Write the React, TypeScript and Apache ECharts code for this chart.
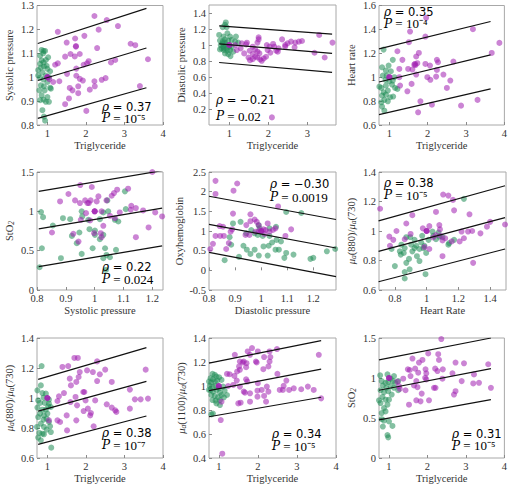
import { useEffect, useRef } from 'react';
import * as echarts from 'echarts';

// ---------- data ----------
const green1 = [[0.85,1.114],[0.90,1.11],[0.94,1.11],[0.81,1.09],[0.89,1.10],[0.85,1.07],[0.81,1.056],[0.90,1.062],[0.96,1.072],[1.02,1.083],[0.91,1.045],[0.83,1.04],[0.76,1.03],[0.87,1.02],[1.0,1.035],[1.07,1.025],[0.96,1.007],[0.81,0.998],[0.90,0.99],[1.04,1.0],[1.0,0.98],[0.83,0.966],[0.91,0.962],[1.07,0.956],[0.79,0.945],[0.93,0.945],[0.85,0.924],[0.90,0.906],[1.0,0.917],[0.81,0.904],[0.96,0.897],[1.04,0.897],[0.87,0.862],[0.91,0.835],[0.94,0.818],[1.09,0.952],[0.76,1.007],[0.98,1.048]];
const purple1 = [[2.22,1.256],[2.54,1.239],[2.83,1.214],[2.33,1.199],[1.27,1.19],[1.96,1.173],[1.72,1.162],[1.50,1.145],[1.74,1.13],[1.74,1.128],[3.16,1.14],[3.28,1.134],[2.29,1.122],[1.60,1.097],[1.84,1.097],[1.71,1.087],[1.46,1.086],[2.07,1.067],[2.03,1.058],[2.65,1.062],[2.76,1.072],[3.61,1.075],[1.27,1.058],[1.20,1.052],[1.94,1.052],[1.75,1.036],[1.51,1.014],[1.05,0.992],[1.15,0.98],[1.31,0.983],[1.75,1.006],[1.84,0.993],[1.92,0.986],[2.22,0.983],[2.41,0.989],[2.51,0.996],[1.80,0.962],[1.58,0.955],[1.65,0.945],[2.23,0.962],[2.10,0.948],[1.80,0.933],[1.56,0.911],[1.46,0.887],[2.01,0.859],[3.40,0.963],[1,1],[1,1],[1,1]];

const green2 = [[0.91,1.282],[0.89,1.253],[0.83,1.223],[0.93,1.223],[0.74,1.126],[0.85,1.105],[0.95,1.147],[1.02,1.105],[0.76,1.055],[0.83,1.042],[0.89,1.072],[0.97,1.055],[1.06,1.063],[1.15,1.042],[1.23,1.03],[0.78,1.0],[0.85,0.979],[0.91,1.0],[0.93,0.958],[1.0,0.979],[0.86,0.937],[0.95,0.928],[1.02,0.937],[0.80,0.958],[1.06,0.979],[0.97,0.886],[0.89,0.895],[1.03,0.861],[1.10,0.916],[0.83,1.021],[0.89,1.03],[1.17,1.105],[0.76,0.945],[0.86,0.958]];
const purple2 = [[1.15,1.0],[1.29,0.958],[1.45,1.029],[1.60,0.979],[1.52,0.928],[1.75,1.097],[1.75,1.07],[1.72,1.03],[1.66,0.945],[1.72,0.916],[1.77,0.895],[1.60,0.886],[1.49,0.844],[1.53,0.81],[1.60,0.823],[1.66,0.853],[1.79,0.819],[1.72,0.844],[1.96,1.0],[2.03,0.979],[1.98,0.937],[1.83,0.802],[2.12,1.013],[2.15,0.979],[2.20,0.928],[2.24,0.916],[2.26,0.958],[2.35,1.07],[2.43,0.979],[2.49,1.021],[2.58,1.042],[2.69,1.03],[2.78,1.042],[2.86,1.05],[2.67,0.971],[2.43,1.0],[3.18,0.903],[3.30,1.126],[3.44,0.844],[3.64,1.03],[2.09,0.095],[1.88,0.832],[1.32,1.021],[1.43,1.008],[1.19,0.937],[1.38,0.895],[1.94,0.853],[2.05,0.903],[1,1],[1,1],[1,1]];

const green3 = [[0.85,1.231],[0.81,1.083],[0.91,1.055],[1.09,1.145],[0.98,1.097],[1.04,1.05],[0.83,1.013],[0.93,1.013],[0.90,0.977],[1.0,0.966],[0.79,0.91],[0.91,0.93],[1.07,0.938],[1.15,0.91],[1.21,0.902],[0.85,0.874],[0.96,0.888],[0.81,0.846],[0.91,0.854],[1.02,0.832],[1.10,0.838],[0.87,0.81],[0.96,0.798],[0.79,0.79],[0.81,0.754],[0.87,0.72],[0.74,0.921],[1.09,0.972],[1.13,1.0]];
const purple3 = [[1.96,1.497],[1.54,1.382],[3.18,1.402],[1.94,1.34],[1.51,1.293],[3.87,1.287],[1.21,1.217],[1.77,1.203],[3.67,1.203],[1.70,1.173],[1.67,1.111],[1.73,1.117],[2.24,1.145],[2.27,1.125],[2.67,1.131],[1.94,1.111],[1.34,1.145],[2.06,1.097],[1.49,1.069],[1.60,1.064],[1.26,1.069],[1.70,1.022],[1.99,1.0],[2.22,1.005],[2.41,1.022],[2.59,0.972],[2.24,1.061],[2.07,0.978],[1.28,0.93],[1.58,0.944],[2.50,0.91],[1.26,1.0],[1.47,0.882],[1.81,0.798],[2.11,0.77],[1.75,0.706],[2.87,0.762],[3.30,0.81],[1.68,1.1],[1.65,1.105],[1,1],[1,1],[1,1]];

const green4 = [[0.814,0.99],[0.821,0.926],[0.89,0.913],[0.915,0.90],[0.855,0.82],[0.921,0.688],[0.938,0.595],[0.955,1.0],[0.957,0.935],[0.982,0.773],[1.001,0.756],[0.978,0.892],[1.018,0.90],[1.03,0.986],[1.047,1.0],[1.044,1.139],[1.07,0.892],[1.082,0.871],[1.105,1.254],[1.108,1.028],[1.03,0.701],[1.018,0.646],[1.036,0.531],[1.041,0.446],[1.03,0.404],[0.993,0.531],[0.955,0.459],[0.883,0.404],[0.817,0.531],[0.809,0.289],[1.039,0.255],[1.053,0.416],[1.074,0.51],[0.947,0.731],[1.001,0.701]];
const purple4 = [[1.2,1.5],[0.95,1.334],[0.99,1.309],[1.116,1.288],[1.078,1.275],[1.067,1.232],[1.059,1.198],[0.909,1.22],[0.88,1.126],[0.932,1.139],[0.967,1.139],[0.986,1.139],[1.007,1.126],[0.949,1.105],[0.975,1.105],[0.98,1.105],[1.041,1.139],[1.127,1.071],[1.143,1.041],[0.97,0.977],[1.024,1.0],[1.087,0.986],[1.125,1.02],[1.168,1.011],[1.21,0.986],[1.234,0.935],[0.952,0.892],[0.984,0.884],[1.053,0.943],[1.07,0.913],[1.03,0.816],[0.998,0.722],[1.021,0.722],[0.926,0.714],[0.852,0.731],[0.944,0.616],[1.024,0.671],[1.187,0.795],[1.143,0.671],[1.013,1.19],[1,1],[1,1],[1,1]];

const green5 = [[1.096,1.483],[1.154,1.458],[0.921,1.233],[0.892,1.192],[0.99,1.15],[0.994,1.067],[1.032,1.067],[0.962,1.025],[0.975,0.942],[0.987,0.9],[1.006,0.875],[1.032,0.875],[1.057,1.108],[1.059,0.775],[1.076,0.733],[1.042,0.708],[1.029,0.625],[1.055,0.525],[1.068,0.525],[0.945,0.525],[0.959,0.417],[0.932,0.625],[0.975,0.525],[1.009,0.608],[0.991,0.375],[1.025,0.375],[1.089,0.317],[1.096,0.442],[1.124,0.4],[1.189,0.292],[1.2,0.317],[1.252,0.483],[1.284,0.542],[0.915,0.342],[0.86,0.258],[0.879,0.842],[0.885,0.65],[0.943,0.942]];
const purple5 = [[0.825,2.275],[0.908,2.208],[0.825,1.942],[0.894,2.025],[1.065,1.625],[0.892,1.442],[0.959,1.425],[0.975,1.292],[0.959,1.25],[0.983,1.233],[1.025,1.192],[1.017,1.025],[1.045,1.025],[0.841,1.125],[0.854,1.108],[0.889,1.042],[0.883,0.983],[0.825,0.875],[0.843,0.875],[0.857,0.875],[0.805,0.542],[0.815,0.675],[0.866,0.542],[0.876,0.692],[0.955,0.9],[0.978,0.983],[0.991,1.0],[1.009,1.042],[1.013,0.925],[1.032,0.983],[1.055,1.067],[1.093,0.875],[1.115,1.042],[0.94,0.9],[0.991,1.142],[0.943,1.15],[1,1],[1,1],[1,1]];

const green6 = [[1.235,1.218],[0.779,0.878],[0.8,0.762],[0.831,0.862],[0.837,0.84],[0.856,0.851],[0.841,0.907],[0.862,0.884],[0.872,0.958],[0.897,0.958],[0.903,0.907],[0.91,0.862],[0.924,0.884],[0.889,0.811],[0.872,0.784],[0.893,0.74],[0.862,0.722],[0.862,0.678],[0.939,0.829],[0.955,0.878],[0.966,0.922],[0.972,0.967],[0.98,0.884],[0.986,0.9],[0.997,0.851],[0.993,0.707],[1.012,0.94],[1.037,0.996],[1.042,0.967],[1.059,0.944],[1.075,0.989],[1.1,0.958],[1.142,0.918],[1.137,0.907],[1.173,0.94],[1.08,0.962],[0.924,0.94],[0.955,0.796],[0.935,0.9]];
const purple6 = [[0.707,1.151],[1.104,1.247],[1.137,1.24],[1.166,1.211],[1.059,1.129],[1.173,1.14],[1.27,1.113],[0.91,1.107],[1.017,1.033],[1.08,1.04],[0.976,1.018],[1.084,1.011],[1.059,0.973],[1.088,0.967],[1.117,0.951],[1.1,0.936],[1.158,0.929],[1.22,0.996],[1.208,0.929],[1.235,0.951],[1.261,0.996],[1.287,1.0],[1.339,0.984],[1.38,1.029],[1.4,1.062],[1.494,1.044],[0.81,1.0],[0.765,0.962],[0.79,0.94],[0.769,0.9],[0.872,1.051],[0.899,0.98],[0.862,0.944],[1.017,0.878],[1.1,0.829],[1.293,0.784],[0.986,0.891],[1.041,0.956],[1,1],[1,1],[1,1]];

const green7 = [[0.85,1.213],[0.83,1.084],[0.74,1.051],[0.87,1.033],[0.96,1.029],[0.90,1.002],[1.04,0.989],[0.76,0.984],[0.81,0.967],[0.93,0.967],[1.02,0.944],[0.74,0.936],[0.87,0.922],[0.96,0.922],[1.09,0.94],[0.81,0.896],[0.91,0.884],[1.0,0.896],[0.76,0.873],[0.90,0.856],[0.98,0.862],[1.04,0.84],[0.83,0.829],[0.91,0.807],[1.07,0.811],[0.98,0.789],[0.79,0.767],[0.87,0.762],[0.91,0.758],[0.76,0.736],[0.83,0.718],[1.10,0.669],[1.09,0.773],[0.73,0.807],[1.04,0.962]];
const purple7 = [[1.70,1.267],[1.79,1.267],[2.29,1.244],[1.54,1.213],[1.39,1.207],[2.03,1.184],[2.50,1.189],[2.18,1.173],[1.84,1.173],[2.36,1.158],[1.81,1.14],[1.58,1.129],[2.29,1.113],[1.75,1.107],[2.67,1.107],[1.61,1.084],[3.55,1.189],[1.93,1.04],[1.96,1.04],[3.14,1.056],[1.43,1.033],[1.30,1.011],[1.73,1.007],[3.27,0.991],[3.42,0.991],[3.61,0.996],[1.99,0.984],[2.24,0.984],[1.26,0.98],[1.60,0.973],[1.77,0.951],[2.54,0.958],[2.67,0.936],[2.76,0.918],[2.05,0.929],[2.79,0.907],[3.14,0.929],[1.94,0.913],[2.13,0.9],[2.11,0.884],[1.50,0.884],[1.26,0.851],[1.33,0.84],[1.75,0.851],[2.20,0.811],[1.51,0.784],[1.04,0.851],[1,1],[1,1],[1,1]];

const green8 = [[0.84,1.101],[0.90,1.093],[0.79,1.065],[0.85,1.056],[0.94,1.079],[1.01,1.073],[0.75,1.037],[0.81,1.029],[0.90,1.037],[0.96,1.045],[1.07,1.051],[0.77,1.001],[0.84,0.995],[0.92,1.001],[1.01,0.981],[1.11,0.995],[0.79,0.967],[0.85,0.953],[0.94,0.967],[1.03,0.945],[0.81,0.925],[0.90,0.917],[0.98,0.906],[1.07,0.925],[0.84,0.883],[0.92,0.878],[1.03,0.883],[0.94,0.855],[0.81,0.763],[0.85,0.771],[1.15,0.961],[1.21,0.925],[1.13,0.906],[1.03,0.841],[0.75,0.967]];
const purple8 = [[1.85,1.316],[1.74,1.288],[2.0,1.288],[1.8,1.26],[2.3,1.288],[2.49,1.308],[2.16,1.241],[2.32,1.241],[1.41,1.26],[1.54,1.204],[1.61,1.196],[1.64,1.204],[1.71,1.19],[1.95,1.204],[1.97,1.196],[2.3,1.204],[3.56,1.26],[1.52,1.163],[1.54,1.135],[1.7,1.157],[2.14,1.14],[2.27,1.163],[2.5,1.101],[1.21,1.101],[1.28,1.098],[1.4,1.084],[1.47,1.121],[1.7,1.056],[1.73,1.037],[2.0,1.023],[1.46,1.045],[1.37,1.009],[1.54,0.995],[1.64,0.953],[1.67,0.945],[1.99,0.961],[2.1,0.967],[2.23,0.995],[2.27,0.953],[2.16,0.917],[1.99,0.911],[1.8,0.939],[1.8,0.869],[1.56,0.861],[1.5,0.855],[2.21,0.869],[2.56,0.967],[2.66,1.001],[2.73,1.045],[2.8,0.967],[2.64,0.967],[2.92,0.981],[3.11,0.973],[3.28,0.995],[3.43,0.967],[3.62,0.897],[1.07,0.869],[1.05,0.716],[1.09,0.436],[1.24,1.0],[1,1],[1,1],[1,1]];

const green9 = [[0.77,1.033],[0.96,1.045],[0.81,0.961],[0.91,0.94],[0.98,0.949],[1.04,0.991],[1.1,0.961],[1.16,0.94],[1.24,0.961],[0.84,0.906],[0.93,0.877],[1.04,0.898],[1.13,0.877],[1.24,0.847],[0.78,0.847],[0.87,0.822],[0.98,0.835],[1.07,0.793],[0.83,0.763],[0.91,0.729],[1.0,0.729],[0.78,0.687],[0.96,0.666],[0.74,0.721],[0.87,0.624],[0.81,0.561],[0.91,0.582],[0.81,0.485],[0.87,0.468],[1.0,0.456],[1.09,0.401],[0.96,0.287],[0.98,0.258],[0.84,0.393],[1.13,1.024]];
const purple9 = [[2.36,1.487],[2.02,1.306],[2.28,1.298],[1.61,1.243],[1.87,1.226],[1.78,1.193],[2.3,1.226],[2.73,1.193],[2.95,1.184],[3.58,1.172],[1.49,1.108],[1.54,1.1],[1.68,1.117],[1.95,1.108],[2.2,1.117],[2.26,1.087],[2.4,1.108],[2.65,1.058],[1.76,1.066],[1.97,1.058],[1.56,1.024],[1.94,1.003],[1.97,0.982],[1.22,0.954],[1.37,0.991],[1.71,0.961],[2.39,0.991],[2.89,0.961],[3.21,1.045],[3.34,0.94],[3.19,0.932],[3.65,0.877],[1.65,0.906],[1.74,0.885],[2.21,0.877],[2.17,0.877],[1.85,0.805],[2.69,0.793],[2.73,0.835],[1.43,0.847],[1.28,0.864],[1.26,0.898],[1.71,0.721],[1.52,0.666],[1.82,0.708],[2.04,0.721],[1,1],[1,1],[1,1]];

// regression lines (x start/end, y at start/end)
const fitX = [[0.75,3.57],[0.74,3.63],[0.73,3.64],[0.806,1.234],[0.8,1.287],[0.697,1.494],[0.76,3.57],[0.75,3.62],[0.74,3.65]];
const fitUpper = [[1.141,1.288],[1.24,1.135],[1.237,1.466],[1.254,1.517],[1.883,1.292],[1.069,1.307],[1.124,1.336],[1.19,1.378],[1.226,1.5]];
const fitMid = [[0.986,1.122],[1.013,0.895],[0.96,1.187],[0.778,1.041],[1.167,0.567],[0.862,1.091],[0.913,1.111],[0.961,1.14],[0.847,1.117]];
const fitLower = [[0.828,0.956],[0.781,0.659],[0.687,0.902],[0.297,0.561],[0.458,-0.158],[0.656,0.878],[0.691,0.88],[0.744,0.906],[0.477,0.729]];

// axes
const xNames = ['Triglyceride','Triglyceride','Triglyceride','Systolic pressure','Diastolic pressure','Heart Rate','Triglyceride','Triglyceride','Triglyceride'];
const yNames = ['Systolic pressure','Diastolic pressure','Heart rate','StO{s|2}','Oxyhemoglobin','{m|μ}{s|a}(880)/{m|μ}{s|a}(730)','{m|μ}{s|a}(880)/{m|μ}{s|a}(730)','{m|μ}{s|a}(1100)/{m|μ}{s|a}(730)','StO{s|2}'];
const xRanges = [[0.73,4],[0.48,3.73],[0.73,4],[0.8,1.237],[0.8,1.287],[0.7,1.5],[0.73,4],[0.75,4],[0.74,4]];
const yRanges = [[0.8,1.3],[0,1.5],[0.6,1.6],[0,1.5],[-0.5,2.5],[0.6,1.4],[0.6,1.4],[0.4,1.4],[0,1.5]];
const xTicks = [[1,2,3,4],[1,2,3],[1,2,3,4],[0.8,0.9,1,1.1,1.2],[0.8,0.9,1,1.1,1.2],[0.8,1,1.2,1.4],[1,2,3,4],[1,2,3,4],[1,2,3,4]];
const yTicks = [[0.8,0.9,1,1.1,1.2,1.3],[0.2,0.4,0.6,0.8,1,1.2,1.4],[0.6,0.8,1,1.2,1.4,1.6],[0,0.5,1,1.5],[-0.5,0,0.5,1,1.5,2,2.5],[0.6,0.8,1,1.2,1.4],[0.6,0.8,1,1.2,1.4],[0.4,0.6,0.8,1,1.2,1.4],[0,0.5,1,1.5]];

// statistics
const rhoTexts = ['0.37','−0.21','0.35','0.22','−0.30','0.38','0.38','0.34','0.31'];
const pTexts = ['10⁻⁵','0.02','10⁻⁴','0.024','0.0019','10⁻⁵','10⁻⁷','10⁻⁵','10⁻⁵'];

// ---------- layout ----------
const colLeft = [37, 209, 379];
const colWidth = [126, 127, 127];
const rowTop = [5, 172, 338];
const rowHeight = [120, 118, 120];
const annotX = [102, 216, 384, 102, 270, 384, 102, 272, 452];
const annotRhoY = [106.5, 100, 12, 267, 184, 183, 433, 434, 434];
const annotPY = [118, 116, 23.5, 279, 197, 195, 445, 446, 445.5];

const greens = [green1, green2, green3, green4, green5, green6, green7, green8, green9];
const purples = [purple1, purple2, purple3, purple4, purple5, purple6, purple7, purple8, purple9];

const SERIF = "'Liberation Serif', 'Times New Roman', serif";
const SANS = "'DejaVu Sans', sans-serif";
const TXT = '#333';
const fmt = (v: number) => String(Math.round(v * 100) / 100);

function buildOption() {
  const grid: any[] = [];
  const xAxis: any[] = [];
  const yAxis: any[] = [];
  const series: any[] = [];
  const graphic: any[] = [];
  const nameStyle = { fontFamily: SERIF, fontSize: 10.5, fontWeight: 'normal', color: TXT };
  for (let i = 0; i < 9; i++) {
    const c = i % 3;
    const r = Math.floor(i / 3);
    grid.push({
      left: colLeft[c], top: rowTop[r], width: colWidth[c], height: rowHeight[r],
      show: true, borderColor: '#a8a8a8', borderWidth: 1, backgroundColor: '#fff',
    });
    xAxis.push({
      type: 'value', gridIndex: i, min: xRanges[i][0], max: xRanges[i][1],
      name: xNames[i], nameLocation: 'middle', nameGap: 15,
      nameTextStyle: { ...nameStyle },
      axisLine: { show: false }, splitLine: { show: false },
      axisTick: { show: true, inside: true, length: 3, lineStyle: { color: '#8a8a8a' }, customValues: xTicks[i] },
      axisLabel: { customValues: xTicks[i], fontFamily: SERIF, fontSize: 10.5, fontWeight: 'normal', color: TXT, margin: 3, formatter: fmt },
    });
    yAxis.push({
      type: 'value', gridIndex: i, min: yRanges[i][0], max: yRanges[i][1],
      name: yNames[i], nameLocation: 'middle', nameGap: 22,
      nameTextStyle: {
        ...nameStyle, lineHeight: 12,
        rich: {
          s: { fontFamily: SERIF, fontSize: 7.5, fontWeight: 'normal', color: TXT, fontStyle: 'italic', verticalAlign: 'bottom', lineHeight: 6 },
          m: { fontFamily: SERIF, fontSize: 10.5, fontWeight: 'normal', color: TXT, fontStyle: 'italic', lineHeight: 12 },
        },
      },
      axisLine: { show: false }, splitLine: { show: false },
      axisTick: { show: true, inside: true, length: 3, lineStyle: { color: '#8a8a8a' }, customValues: yTicks[i] },
      axisLabel: { customValues: yTicks[i], fontFamily: SERIF, fontSize: 10.5, fontWeight: 'normal', color: TXT, margin: 3, formatter: fmt },
    });
    series.push({
      type: 'scatter', xAxisIndex: i, yAxisIndex: i, data: greens[i], symbolSize: 6, silent: true,
      itemStyle: { color: '#1f8c55', opacity: 0.55 },
    });
    series.push({
      type: 'scatter', xAxisIndex: i, yAxisIndex: i, data: purples[i], symbolSize: 6, silent: true,
      itemStyle: { color: '#a01fb0', opacity: 0.55 },
    });
    for (const f of [fitUpper[i], fitMid[i], fitLower[i]]) {
      series.push({
        type: 'line', xAxisIndex: i, yAxisIndex: i, symbol: 'none', silent: true, z: 5,
        data: [[fitX[i][0], f[0]], [fitX[i][1], f[1]]],
        lineStyle: { color: '#111', width: 1.2 },
      });
    }
    const rich = {
      it: { fontFamily: "'DejaVu Serif', serif", fontStyle: 'italic', fontSize: 12, fill: '#000', lineHeight: 10 },
      n: { fontFamily: SANS, fontSize: 11.5, fill: '#000', lineHeight: 10 },
      t: { fontFamily: SERIF, fontSize: 13, fill: '#000', lineHeight: 10 },
    };
    graphic.push({
      type: 'text', x: annotX[i], y: annotRhoY[i], z: 10,
      style: { text: '{it|ρ}{n| = ' + rhoTexts[i] + '}', rich, align: 'left', verticalAlign: 'middle', fill: '#000' },
    });
    graphic.push({
      type: 'text', x: annotX[i], y: annotPY[i], z: 10,
      style: { text: '{it|P}{t| = ' + pTexts[i] + '}', rich, align: 'left', verticalAlign: 'middle', fill: '#000' },
    });
  }
  return {
    animation: false, backgroundColor: '#fff',
    textStyle: { fontFamily: SERIF, fontWeight: 'normal' },
    grid, xAxis, yAxis, series, graphic,
  };
}

export default function App() {
  const ref = useRef<HTMLDivElement>(null);
  useEffect(() => {
    document.body.style.margin = '0';
    const chart = echarts.init(ref.current!, null, { renderer: 'svg' });
    chart.setOption(buildOption() as any);
    return () => chart.dispose();
  }, []);
  return <div ref={ref} style={{ width: 510, height: 487 }} />;
}
